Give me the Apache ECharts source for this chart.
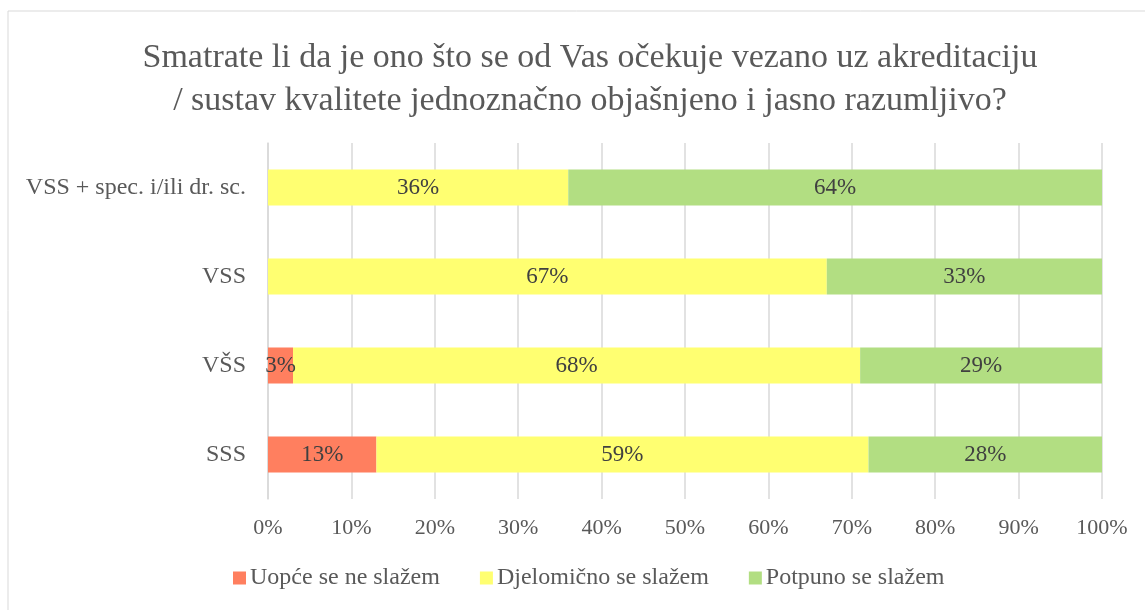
<!DOCTYPE html>
<html><head><meta charset="utf-8">
<script src="https://cdn.jsdelivr.net/npm/echarts@6/dist/echarts.min.js"></script>
<style>html,body{margin:0;padding:0;background:#fff}#c{width:1145px;height:610px}</style>
</head><body><div id="c"></div>
<script>
const categories = ['SSS', 'VŠS', 'VSS', 'VSS + spec. i/ili dr. sc.'];
const seriesNames = ['Uopće se ne slažem', 'Djelomično se slažem', 'Potpuno se slažem'];
const uopce = [13, 3, 0, 0];
const djelomicno = [59, 68, 67, 36];
const potpuno = [28, 29, 33, 64];
const xTicks = [0, 10, 20, 30, 40, 50, 60, 70, 80, 90, 100];
const colors = ['#FF7F5F', '#FFFF71', '#B2DE82'];
const font = 'Liberation Serif';

const chart = echarts.init(document.getElementById('c'));
function mk(name, data, color) {
  return {
    name, type: 'bar', stack: 'a', data, barWidth: 36,
    itemStyle: { color },
    label: { show: true, position: 'inside', fontFamily: font, fontSize: 23, color: '#404040',
      formatter: p => p.value > 0 ? p.value + '%' : '' }
  };
}
chart.setOption({
  animation: false,
  title: {
    text: 'Smatrate li da je ono što se od Vas očekuje vezano uz akreditaciju\n/ sustav kvalitete jednoznačno objašnjeno i jasno razumljivo?',
    left: 585, top: 32, textAlign: 'center',
    textStyle: { fontFamily: font, fontSize: 34, fontWeight: 'normal', color: '#595959', lineHeight: 43 }
  },
  legend: {
    data: seriesNames, bottom: 15, left: 228, itemWidth: 13, itemHeight: 13, itemGap: 40,
    icon: 'rect',
    textStyle: { fontFamily: font, fontSize: 24, color: '#595959', padding: [0, 0, 0, -1] }
  },
  grid: { left: 268, right: 43, top: 143, bottom: 111 },
  xAxis: {
    type: 'value', min: 0, max: 100, interval: 10,
    axisLabel: { formatter: v => v + '%', fontFamily: font, fontSize: 22, color: '#595959', margin: 18 },
    splitLine: { lineStyle: { color: '#D9D9D9', width: 1.5 } },
    axisLine: { show: false }, axisTick: { show: false }
  },
  yAxis: {
    type: 'category', data: categories,
    axisLabel: { fontFamily: font, fontSize: 24, color: '#595959', margin: 22 },
    axisLine: { lineStyle: { color: '#D9D9D9', width: 1.5 } }, axisTick: { show: false }
  },
  graphic: [
    { type: 'line', shape: { x1: 8, y1: 11, x2: 1145, y2: 11 }, style: { stroke: '#D9D9D9', lineWidth: 1 } },
    { type: 'line', shape: { x1: 8, y1: 11, x2: 8, y2: 610 }, style: { stroke: '#D9D9D9', lineWidth: 1 } }
  ],
  series: [mk(seriesNames[0], uopce, colors[0]), mk(seriesNames[1], djelomicno, colors[1]), mk(seriesNames[2], potpuno, colors[2])]
});
</script></body></html>
